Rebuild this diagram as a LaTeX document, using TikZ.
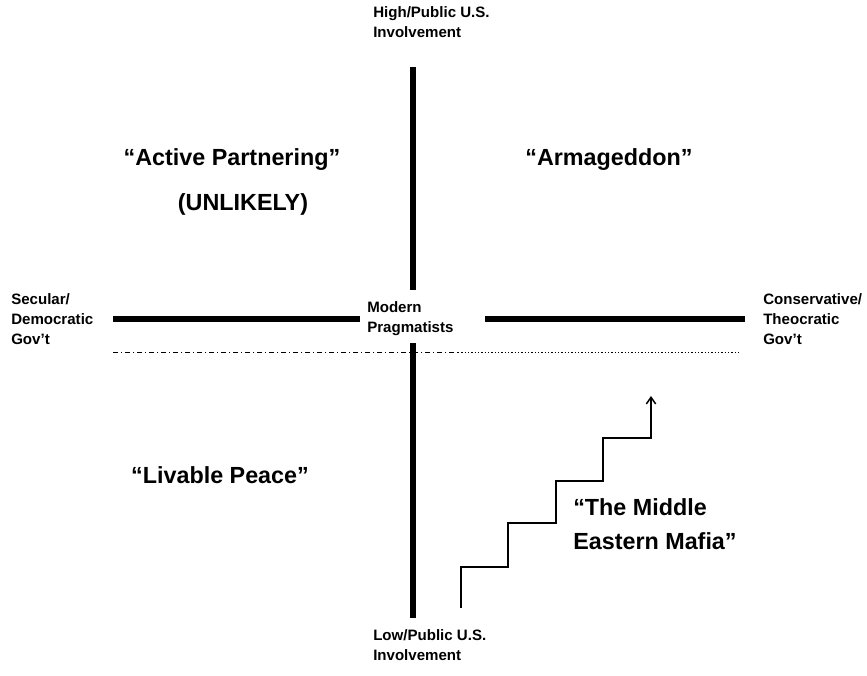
\documentclass[tikz,border=0pt]{standalone}
\usepackage{fontspec}
\setmainfont{Liberation Sans}
\usetikzlibrary{arrows.meta}
\begin{document}
\begin{tikzpicture}[x=0.75pt,y=-0.75pt,
  axis/.style={line width=3.8pt},
  small/.style={font=\bfseries\fontsize{11.3}{15}\selectfont, align=left, inner sep=0pt},
  big/.style={font=\bfseries\fontsize{17.5}{26}\selectfont, align=left, inner sep=0pt},
  stair/.style={line width=1.1pt, -{Straight Barb[length=5pt,width=7pt]}},
  guide/.style={line width=0.7pt}]
\useasboundingbox (0,0) rectangle (867,675);
% axes
\coordinate (vt1) at (413,67); \coordinate (vb1) at (413,290);
\coordinate (vt2) at (413,343); \coordinate (vb2) at (413,618);
\coordinate (hl1) at (113,319); \coordinate (hr1) at (360,319);
\coordinate (hl2) at (485,319); \coordinate (hr2) at (745,319);
\draw[axis] (vt1) -- (vb1);
\draw[axis] (vt2) -- (vb2);
\draw[axis] (hl1) -- (hr1);
\draw[axis] (hl2) -- (hr2);
% dash-dot line
\coordinate (d1) at (113,352); \coordinate (d2) at (458,352); \coordinate (d3) at (740,352);
\draw[guide, dash pattern=on 4pt off 2pt on 1pt off 2pt] (d1) -- (d2);
\draw[guide, dash pattern=on 1pt off 1.5pt] (d2) -- (d3);
% labels
\node[small, anchor=north west] (top) at (373,6) {High/Public U.S.\\Involvement};
\node[small, anchor=north west] (bot) at (373,629) {Low/Public U.S.\\Involvement};
\node[small, anchor=north west] (left) at (11,293) {Secular/\\Democratic\\Gov’t};
\node[small, anchor=north west] (right) at (763,293) {Conservative/\\Theocratic\\Gov’t};
\node[small, anchor=north west] (mid) at (367,301) {Modern\\Pragmatists};
% quadrant texts
\node[big] (ap) at (232,160) {“Active Partnering”};
\node[big] (un) at (243,204) {(UNLIKELY)};
\node[big] (arm) at (609,160) {“Armageddon”};
\node[big] (lp) at (220,475) {“Livable Peace”};
\node[big, anchor=north west] (mem) at (573,498) {“The Middle\\Eastern Mafia”};
% staircase
\coordinate (s0) at (461,608);
\coordinate (s5) at (651,396);
\draw[stair] (s0) |- (508,567) |- (556,523) |- (603,481) |- (651,438) -- (s5);
\end{tikzpicture}
\end{document}
